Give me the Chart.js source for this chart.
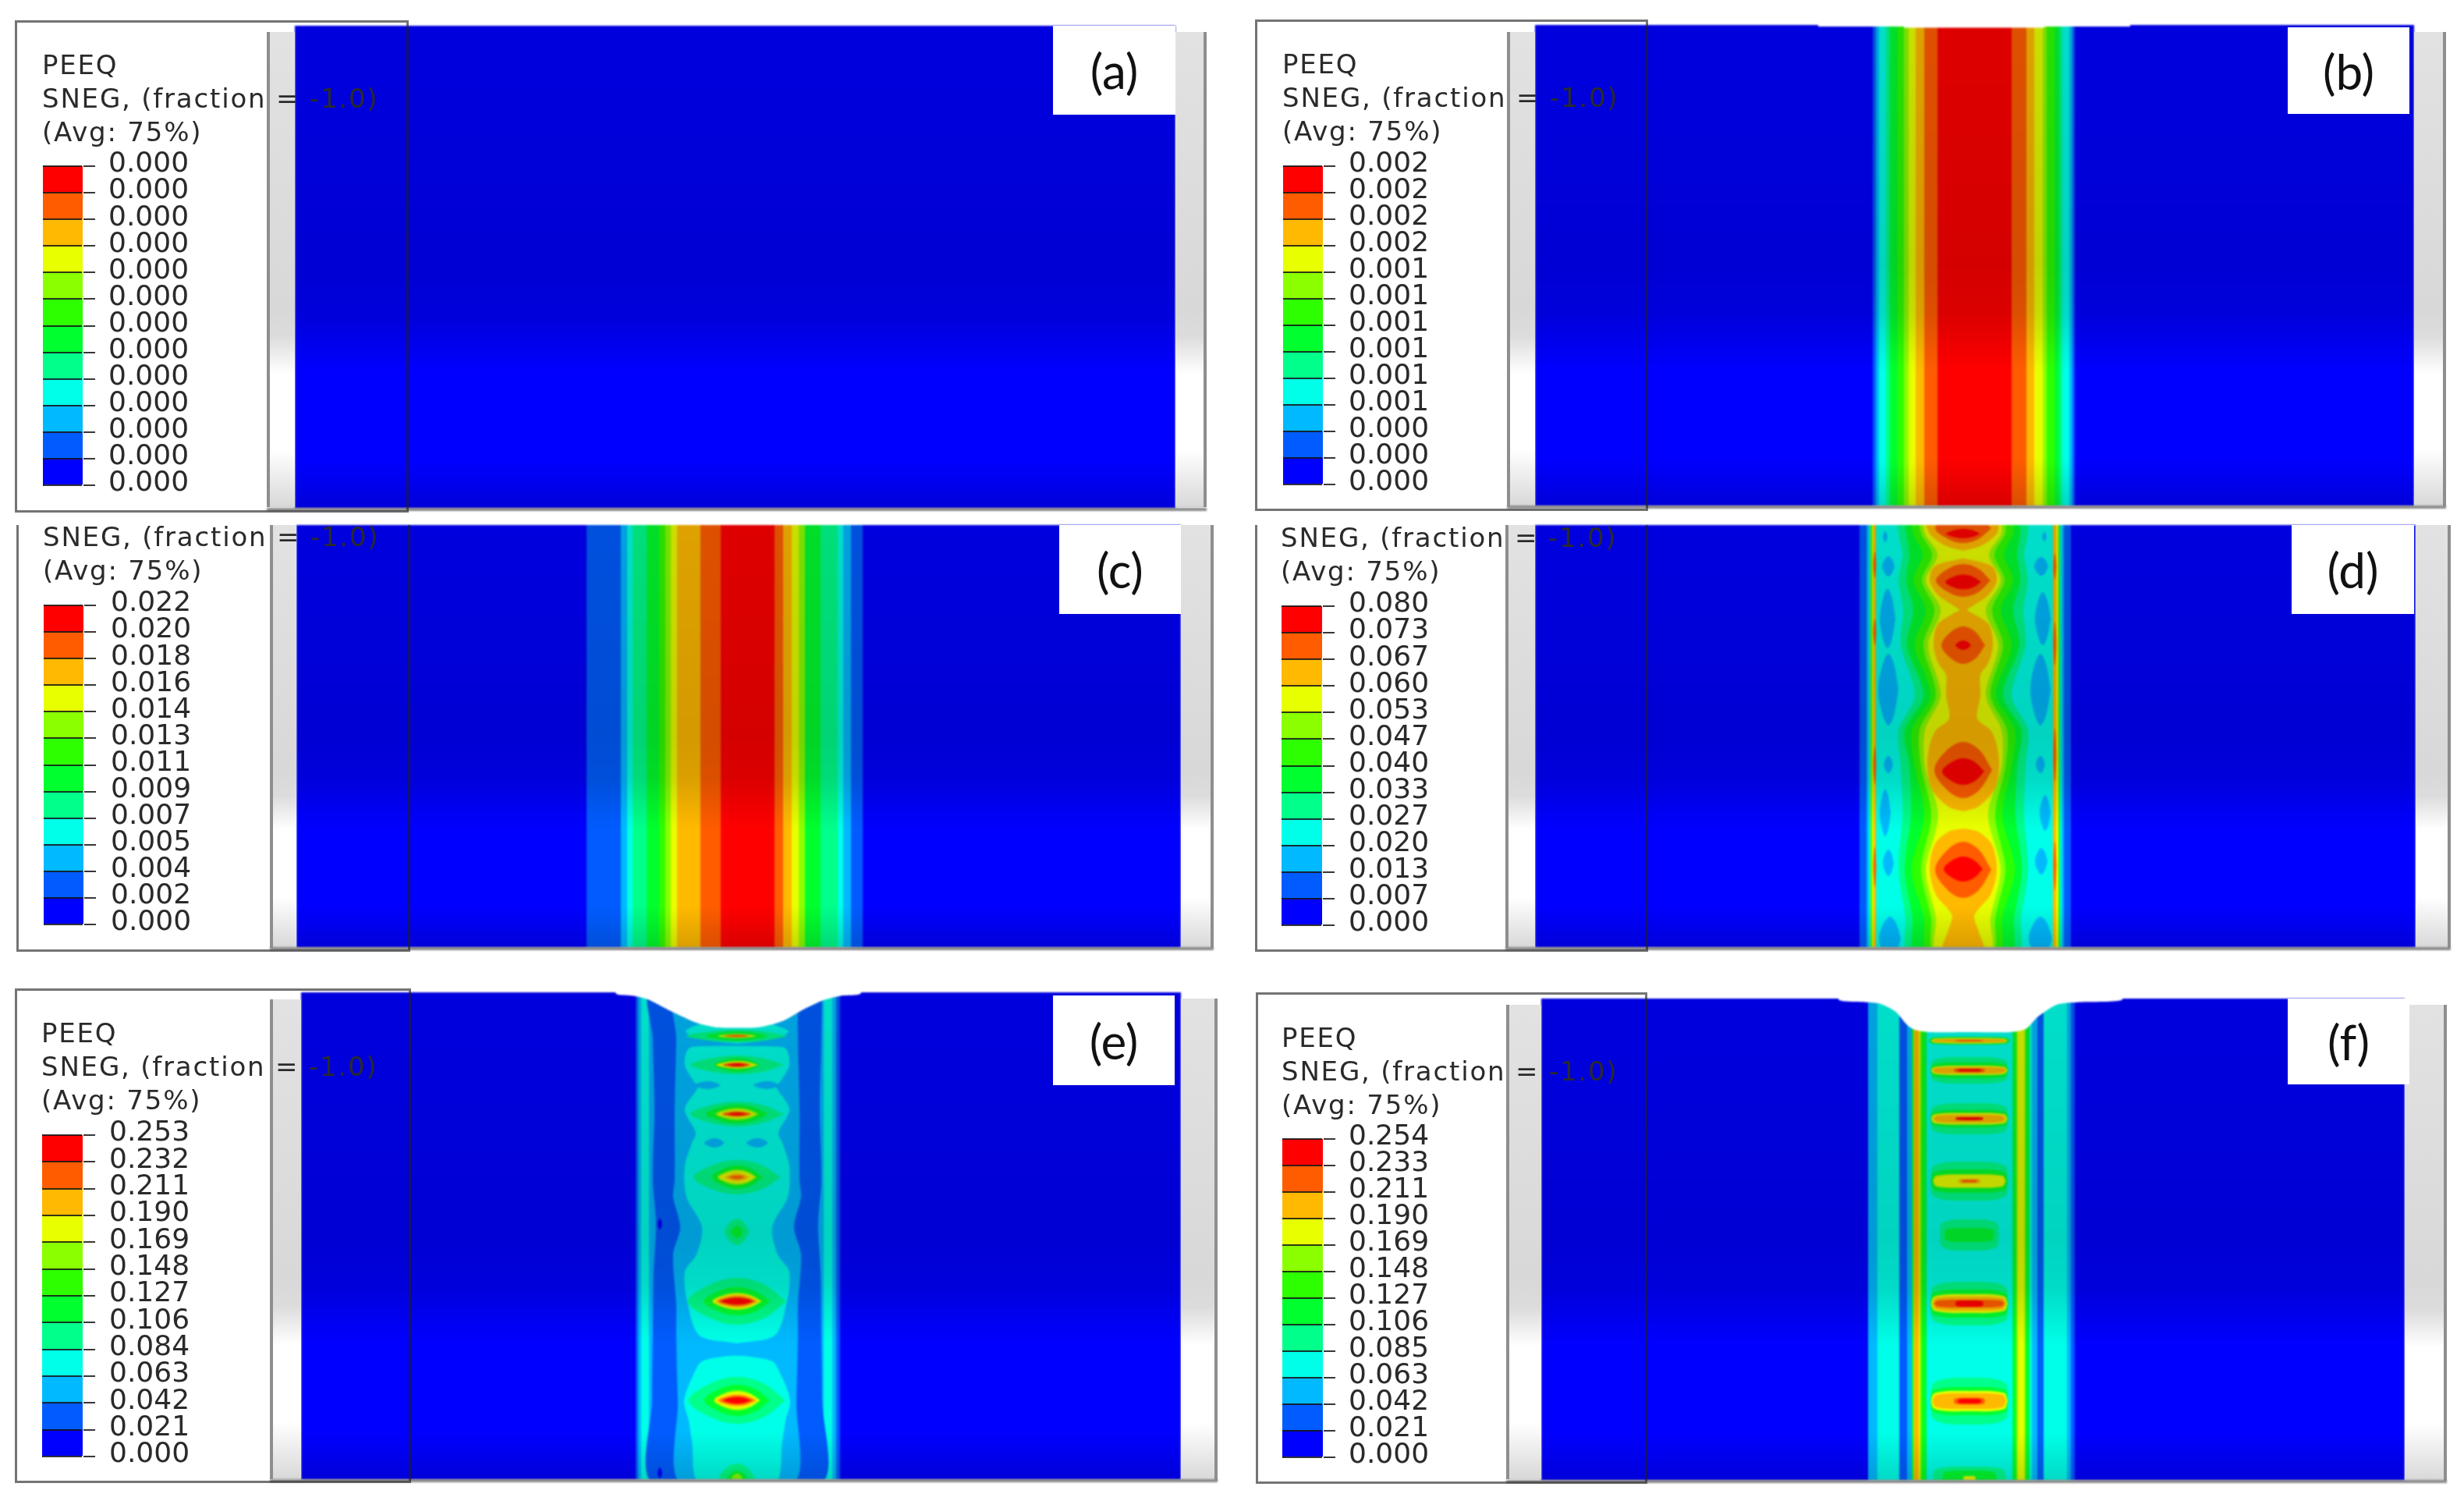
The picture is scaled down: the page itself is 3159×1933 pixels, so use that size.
<!DOCTYPE html>
<html>
<head>
<meta charset="utf-8">
<title>PEEQ contours</title>
<script src="https://cdn.jsdelivr.net/npm/chart.js@4"></script>
<style>
html, body { margin: 0; padding: 0; background: #fff; width: 3159px; height: 1933px; overflow: hidden; }
canvas { position: absolute; display: block; }
.plate { filter: blur(1.3px); }
.legend { filter: blur(0.6px); }
.rail { position: absolute; background: linear-gradient(#e2e2e2 0%, #d8d8d8 58%, #dcdcdc 64%, #fff 72%, #fff 88%, #d8d8d8 100%); box-sizing: border-box; filter: blur(0.6px); }
.floor { position: absolute; height: 4px; background: #8a8a8a; filter: blur(0.8px); }
.box { position: absolute; box-sizing: border-box; border: 3px solid rgba(30,30,30,0.62); filter: blur(0.4px); }
.txt { position: absolute; white-space: pre; font: 34px/42px "DejaVu Sans", sans-serif; letter-spacing: 1.8px; color: #2a2a2a; filter: blur(0.5px); }
.tag { position: absolute; background: #fff; display: flex; align-items: center; justify-content: center; font: 62px "Lato", sans-serif; color: #111; }
</style>
</head>
<body>
<script>
// Abaqus contour colours, low to high
const contourColors = ['#0000ff', '#005cff', '#00b9ff', '#00ffe8', '#00ff8b', '#00ff2e', '#2eff00', '#8bff00', '#e8ff00', '#ffb900', '#ff5c00', '#ff0000'];

// Legend tick labels, top to bottom
const legendA = ['0.000', '0.000', '0.000', '0.000', '0.000', '0.000', '0.000', '0.000', '0.000', '0.000', '0.000', '0.000', '0.000'];
const legendB = ['0.002', '0.002', '0.002', '0.002', '0.001', '0.001', '0.001', '0.001', '0.001', '0.001', '0.000', '0.000', '0.000'];
const legendC = ['0.022', '0.020', '0.018', '0.016', '0.014', '0.013', '0.011', '0.009', '0.007', '0.005', '0.004', '0.002', '0.000'];
const legendD = ['0.080', '0.073', '0.067', '0.060', '0.053', '0.047', '0.040', '0.033', '0.027', '0.020', '0.013', '0.007', '0.000'];
const legendE = ['0.253', '0.232', '0.211', '0.190', '0.169', '0.148', '0.127', '0.106', '0.084', '0.063', '0.042', '0.021', '0.000'];
const legendF = ['0.254', '0.233', '0.211', '0.190', '0.169', '0.148', '0.127', '0.106', '0.085', '0.063', '0.042', '0.021', '0.000'];

const titleFull = ['PEEQ', 'SNEG, (fraction = -1.0)', '(Avg: 75%)'];
const titleCut = ['SNEG, (fraction = -1.0)', '(Avg: 75%)'];

// Straight contour bands: edges are distance from the weld centre line, colours index contourColors
const edgesB = [-130, -126, -122, -113, -108, -98, -90, -84, -75, -64, -47, 48, 67, 77, 88, 93, 103, 109, 113, 122, 126, 129];
const colorsB = [1, 2, 3, 4, 5, 6, 7, 8, 9, 10, 11, 10, 9, 8, 7, 6, 5, 4, 3, 2, 1];
const edgesC = [-206, -162, -154, -147, -129, -113, -105, -98, -90, -60, -34, 35, 46, 57, 66, 74, 94, 116, 123, 133, 148];
const colorsC = [1, 2, 3, 4, 5, 6, 7, 8, 9, 10, 11, 10, 9, 8, 7, 5, 4, 3, 2, 1];
const edgesD = [-133, -124, -121, -119, -117, -115, -112, 115, 119, 122, 124, 126, 129, 138];
const colorsD = [1, 2, 3, 6, 8, 9, 3, 9, 8, 5, 3, 2, 1];
const edgesE = [-130, -127, -123, -113, 111, 122, 127, 132];
const colorsE = [1, 2, 3, 2, 3, 2, 1];
const edgesF = [-130, -118, -90, -80, -74, -72, -71, -65, -63, -60, -55, 55, 60, 62, 70, 72, 77, 80, 87, 95, 125, 130, 135];
const colorsF = [2, 3, 1, 2, 5, 7, 9, 8, 6, 5, 3, 5, 7, 8, 7, 5, 3, 2, 1, 3, 2, 1];

// Panel (d): wavy columns, half width of each contour level at depths ridgeDepthD
const ridgeDepthD = [-5, 11, 38, 71, 109, 154, 218, 263, 310, 372, 442, 504, 547];
const ridgeD4 = [83, 83, 78, 83, 77, 80, 62, 83, 80, 78, 83, 74, 70];
const ridgeD5 = [73, 73, 69, 73, 64, 72, 51, 75, 69, 67, 75, 65, 61];
const ridgeD6 = [64, 64, 52, 64, 48, 62, 42, 66, 62, 50, 66, 50, 46];
const ridgeD7 = [54, 54, 40, 53, 37, 51, 35, 56, 54, 41, 54, 41, 38];
const ridgeD8 = [49, 49, 33, 48, 29, 45, 29, 49, 49, 32, 48, 35, 35];
// amber chains: [depth, half width]
const amberD1 = [[-5, 46], [11, 43], [26, 24], [33, 0]];
const amberD2 = [[43, 2], [53, 37], [71, 43], [90, 32], [105, 10], [109, 5], [113, 12], [128, 33], [154, 38], [177, 32], [192, 22], [218, 22], [248, 18], [263, 35], [282, 43], [310, 46], [339, 40], [361, 19], [367, 0]];
const amberD3 = [[389, 0], [393, 19], [410, 37], [442, 43], [474, 35], [493, 19], [502, 14], [519, 19], [547, 26]];
// spots: [offset, depth, half width, half height, colour]
const spotsD = [
  [-100, 15, 3, 7, 2], [-96, 53, 8, 13, 2], [-97, 120, 10, 38, 2], [-96, 211, 13, 46, 2], [-96, 307, 6, 11, 2], [-100, 369, 7, 30, 2], [-96, 433, 7, 17, 2], [-94, 530, 14, 28, 2],
  [104, 15, 3, 6, 2], [100, 53, 9, 12, 2], [102, 120, 10, 34, 2], [99, 211, 13, 46, 2], [99, 307, 6, 11, 2], [105, 369, 7, 23, 2], [100, 431, 8, 17, 2], [99, 530, 15, 28, 2],
  [-113.5, 51, 2, 17, 10], [-113.5, 137, 2, 17, 10], [-113.5, 308, 2, 25, 10], [-113.5, 438, 2, 26, 10],
  [117.5, 53, 2, 17, 10], [117.5, 152, 2, 28, 10], [117.5, 295, 2, 35, 10], [117.5, 437, 2, 32, 10]
];
const hotD = [
  [0, 4, 36, 19, 10], [0, 71, 35, 21, 10], [0, 154, 28, 24, 10], [0, 314, 37, 36, 10], [0, 442, 36, 36, 10],
  [0, 11, 22, 6, 11], [0, 73, 23, 9.5, 11], [0, 154, 10, 6, 11], [0, 316, 27, 17, 11], [0, 441, 25, 16, 11]
];

// Panel (e)
const ridgeDepthE = [-5, 60, 150, 240, 297, 360, 440, 520, 630];
const ridgeE1 = [109, 108, 106, 108, 104, 107, 108, 109, 107];
const ridgeDepthE2 = [-5, 60, 150, 240, 262, 301, 336, 400, 440, 523, 630];
const ridgeE2 = [78, 78, 80, 80, 82, 73, 82, 78, 78, 76, 72];
const cellE1 = [[39, 40], [50, 66], [60, 45], [66, 0]];
const cellE2 = [[69, 40], [72, 62], [93, 67], [115, 55], [121, 50], [150, 67], [180, 53], [193, 58], [223, 67], [262, 65], [301, 45], [336, 52], [358, 67], [401, 63], [440, 48], [450, 0]];
const cellE3 = [[466, 10], [473, 45], [488, 55], [523, 68], [549, 62], [575, 58], [630, 48]];
const spotsE = [
  [-99, 297, 3, 7, 0], [-99, 616, 3, 7, 0],
  [-38, 119, 17, 5, 2], [38, 119, 17, 5, 2], [-29, 193, 13, 6, 2], [26, 193, 14, 6, 2],
  [0, 56, 65, 8, 4], [0, 56, 40, 6, 5], [0, 56, 25, 2.5, 8], [0, 56, 18, 1.5, 10],
  [0, 93, 60, 12, 4], [0, 93, 30, 9, 5], [0, 93, 27, 5, 8], [0, 93, 18, 3, 10], [0, 93, 12, 1.5, 11],
  [0, 156, 60, 16, 4], [0, 156, 40, 12, 5], [0, 156, 28, 8, 7], [0, 156, 25, 5.5, 8], [0, 156, 19, 3.5, 10], [0, 156, 12, 1.5, 11],
  [0, 237, 56, 22, 4], [0, 237, 33, 15, 5], [0, 237, 25, 10, 7], [0, 237, 24, 8, 8], [0, 237, 15, 5, 9], [0, 237, 10, 2, 10],
  [0, 307, 16, 17, 4], [0, 307, 8, 8, 5],
  [0, 396, 63, 30, 4], [0, 396, 43, 18, 5], [0, 396, 32, 11, 7], [0, 396, 31, 10, 8], [0, 396, 27, 8, 9], [0, 396, 24, 6, 10], [0, 396, 20, 4, 11],
  [0, 523, 62, 30, 4], [0, 523, 42, 20, 5], [0, 523, 30, 13, 7], [0, 523, 29, 11, 8], [0, 523, 26, 8, 9], [0, 523, 22, 6, 10], [0, 523, 17, 4, 11],
  [0, 622, 23, 18, 4], [0, 622, 13, 9, 5], [0, 622, 7, 5, 7]
];

// Panel (f): capsule shaped strips
const barsF = [
  [0, 54, 52, 5, 5], [0, 54, 49, 3.5, 8], [0, 54, 47, 2, 9], [0, 54, 18, 1, 10],
  [0, 92, 50, 17, 4], [0, 92, 50, 10, 5], [0, 92, 49, 6, 8], [0, 92, 47, 4, 9], [0, 92, 20, 2.5, 10], [0, 92, 15, 1.5, 11],
  [0, 154, 50, 20, 4], [0, 154, 50, 11, 5], [0, 154, 49, 7.5, 8], [0, 154, 46, 5, 9], [0, 154, 18, 2, 11],
  [0, 234, 50, 25, 4], [0, 234, 49, 15, 5], [0, 234, 47, 9, 7], [0, 234, 46, 8, 8], [0, 234, 14, 3, 9], [0, 234, 10, 1.5, 10],
  [0, 303, 38, 20, 4], [0, 303, 32, 9, 5],
  [0, 391, 50, 28, 4], [0, 391, 50, 18, 5], [0, 391, 49, 12, 8], [0, 391, 47, 9, 9], [0, 391, 45, 5, 10], [0, 391, 18, 4, 11],
  [0, 516, 50, 30, 4], [0, 516, 50, 18, 5], [0, 516, 49, 13, 8], [0, 516, 47, 10, 9], [0, 516, 20, 4.5, 10], [0, 516, 15, 3, 11],
  [0, 615, 47, 15, 4], [0, 615, 35, 10, 5], [0, 615, 8, 3, 8]
];

// Worn top surface: [offset, depth]
const notchB = [[-200, 0], [-200, 2], [-90, 2], [-90, 3.5], [90, 3.5], [90, 2], [200, 2], [200, 0]];
const notchE = [[-155, 2], [-133, 4.4], [-115, 8.7], [-85, 24], [-52, 39], [-28, 44.7], [0, 45.5], [28, 44.7], [58, 37], [85, 22], [112, 9.5], [133, 4.4], [158, 2]];
const notchF = [[-167, 2], [-132, 4.7], [-115, 6.4], [-95, 16.4], [-80, 33.7], [-70, 40], [-52, 43], [0, 43], [52, 43], [72, 39], [88, 23], [112, 7.7], [138, 4.7], [195, 2]];

// Page layout of the six panels
const layoutA = { x: 378, y: 33, w: 1129, h: 619, cx: 900, railL: [342, 41, 36, 609], railR: [1507, 41, 40, 609], box: [19, 26, 505, 631], bar: [55, 213, 51, 409], labelX: 139, title: 94.5, tag: [1350, 33, 157, 114], name: '(a)' };
const layoutB = { x: 1968, y: 32, w: 1127, h: 617, cx: 2531, railL: [1932, 41, 36, 608], railR: [3095, 41, 41, 608], box: [1609, 25, 504, 630], bar: [1645, 213, 51, 408], labelX: 1729, title: 94, tag: [2933, 35, 156, 111], name: '(b)' };
const layoutC = { x: 380, y: 673, w: 1134, h: 542, cx: 958, railL: [346, 673, 34, 542], railR: [1514, 673, 42, 542], box: [21, 673, 505, 547], bar: [56, 776, 51, 409], labelX: 142, title: 700, tag: [1358, 673, 156, 114], name: '(c)' };
const layoutD = { x: 1968, y: 673, w: 1129, h: 542, cx: 2517, railL: [1930, 673, 38, 542], railR: [3097, 673, 45, 542], box: [1609, 673, 504, 547], bar: [1643, 777, 52, 409], labelX: 1729, title: 701, tag: [2938, 673, 157, 114], name: '(d)' };
const layoutE = { x: 386, y: 1272, w: 1128, h: 625, cx: 945, railL: [346, 1281, 40, 615], railR: [1514, 1280, 47, 618], box: [19, 1267, 508, 634], bar: [54, 1455, 52, 412], labelX: 140, title: 1336, tag: [1350, 1276, 156, 115], name: '(e)' };
const layoutF = { x: 1976, y: 1280, w: 1107, h: 618, cx: 2525, railL: [1931, 1288, 45, 608], railR: [3083, 1288, 54, 610], box: [1610, 1272, 502, 630], bar: [1644, 1460, 52, 408], labelX: 1729, title: 1342, tag: [2933, 1280, 156, 110], name: '(f)' };

function addDiv(cls, rect) {
  const el = document.createElement('div');
  el.className = cls;
  if (rect) {
    el.style.left = rect[0] + 'px';
    el.style.top = rect[1] + 'px';
    el.style.width = rect[2] + 'px';
    el.style.height = rect[3] + 'px';
  }
  document.body.appendChild(el);
  return el;
}

function addCanvas(cls, x, y, w, h) {
  const canvas = document.createElement('canvas');
  canvas.className = cls;
  canvas.width = w;
  canvas.height = h;
  canvas.style.left = x + 'px';
  canvas.style.top = y + 'px';
  canvas.style.width = w + 'px';
  canvas.style.height = h + 'px';
  document.body.appendChild(canvas);
  return canvas;
}

// A closed filled outline on the plate's own axes
function shape(points, color, tension) {
  return {
    type: 'scatter',
    data: points,
    showLine: true,
    fill: 'shape',
    backgroundColor: color,
    borderWidth: 0,
    borderColor: 'transparent',
    pointRadius: 0,
    tension: tension || 0
  };
}

function bandShapes(edges, colors, h) {
  return colors.map((c, i) => shape([
    { x: edges[i], y: -10 }, { x: edges[i + 1], y: -10 },
    { x: edges[i + 1], y: h + 10 }, { x: edges[i], y: h + 10 }, { x: edges[i], y: -10 }
  ], contourColors[c]));
}

function ridgeShape(depths, halves, c) {
  const right = depths.map((d, i) => ({ x: halves[i], y: d }));
  const left = depths.map((d, i) => ({ x: -halves[i], y: d })).reverse();
  const pts = right.concat(left);
  pts.push(pts[0]);
  return shape(pts, contourColors[c], 0.3);
}

function chainShape(pairs, c) {
  return ridgeShape(pairs.map(p => p[0]), pairs.map(p => p[1]), c);
}

const lensCorners = [[1, 0], [0.55, 0.72], [0, 1], [-0.55, 0.72], [-1, 0], [-0.55, -0.72], [0, -1], [0.55, -0.72], [1, 0]];
const capsuleCorners = [[1, 0], [0.9, 0.8], [0, 1], [-0.9, 0.8], [-1, 0], [-0.9, -0.8], [0, -1], [0.9, -0.8], [1, 0]];

function spotShapes(list, corners) {
  return list.map(s => shape(corners.map(k => ({ x: s[0] + k[0] * s[2], y: s[1] + k[1] * s[3] })), contourColors[s[4]], 0.35));
}

function notchShape(pairs, tension) {
  const pts = pairs.map(p => ({ x: p[0], y: p[1] }));
  pts.unshift({ x: pairs[0][0], y: -10 });
  pts.push({ x: pairs[pairs.length - 1][0], y: -10 });
  pts.push(pts[0]);
  return shape(pts, '#ffffff', tension);
}

function drawPlate(lay, contours, notch) {
  const canvas = addCanvas('plate', lay.x, lay.y, lay.w, lay.h);
  // the lighting of the rendered part, darker above and at the bottom edge
  const shade = canvas.getContext('2d').createLinearGradient(0, 0, 0, lay.h);
  shade.addColorStop(0, 'rgba(0,0,0,0.13)');
  shade.addColorStop(0.5, 'rgba(0,0,0,0.17)');
  shade.addColorStop(0.6, 'rgba(0,0,0,0.14)');
  shade.addColorStop(0.72, 'rgba(0,0,0,0)');
  shade.addColorStop(0.9, 'rgba(0,0,0,0)');
  shade.addColorStop(1, 'rgba(0,0,0,0.15)');
  const xMin = lay.x - lay.cx;
  const xMax = lay.x + lay.w - lay.cx;
  const whole = [{ x: xMin - 5, y: -10 }, { x: xMax + 5, y: -10 }, { x: xMax + 5, y: lay.h + 10 }, { x: xMin - 5, y: lay.h + 10 }, { x: xMin - 5, y: -10 }];
  const painted = [shape(whole, contourColors[0])].concat(contours, [shape(whole, shade)]);
  if (notch) painted.push(notch);
  // Chart.js paints the first dataset last, so hand them over top layer first
  new Chart(canvas, {
    type: 'scatter',
    data: { datasets: painted.reverse() },
    options: {
      responsive: false,
      animation: false,
      devicePixelRatio: 1,
      layout: { padding: 0, autoPadding: false },
      plugins: { legend: { display: false }, tooltip: { enabled: false } },
      scales: {
        x: { type: 'linear', min: xMin, max: xMax, display: false },
        y: { type: 'linear', min: 0, max: lay.h, reverse: true, display: false }
      }
    }
  });
}

function drawLegend(lay, labels) {
  const bar = lay.bar;
  const axisW = lay.labelX - (bar[0] + bar[2]) + 112;
  const pad = 22;
  const canvas = addCanvas('legend', bar[0], bar[1] - pad, bar[2] + axisW, bar[3] + pad * 2);
  const bands = contourColors.map((c) => ({ data: [1], backgroundColor: c, borderWidth: 0 }));
  new Chart(canvas, {
    type: 'bar',
    data: { labels: ['PEEQ'], datasets: bands },
    options: {
      responsive: false,
      animation: false,
      devicePixelRatio: 1,
      layout: { padding: { top: pad, bottom: pad, left: 0, right: 0 }, autoPadding: false },
      datasets: { bar: { barPercentage: 1, categoryPercentage: 1 } },
      plugins: { legend: { display: false }, tooltip: { enabled: false } },
      scales: {
        x: { stacked: true, display: false },
        y: {
          stacked: true,
          position: 'right',
          min: 0,
          max: 12,
          afterFit: (scale) => {
            scale.width = axisW;
            // the top and bottom labels may hang over the bar ends
            scale.paddingTop = 0;
            scale.paddingBottom = 0;
          },
          grid: { color: 'rgba(20,20,20,0.85)', lineWidth: 2, tickLength: 16, z: 1 },
          border: { color: '#555', width: 2 },
          ticks: {
            stepSize: 1,
            padding: lay.labelX - (bar[0] + bar[2]) - 16,
            labelOffset: -2,
            color: '#2a2a2a',
            font: { family: '"DejaVu Sans"', size: 36 },
            autoSkip: false,
            callback: (v) => labels[12 - v]
          }
        }
      }
    }
  });
}

function drawFrame(lay, title) {
  addDiv('rail', lay.railL).style.cssText += 'border-left:4px solid #8e8e8e;';
  addDiv('rail', lay.railR).style.cssText += 'border-right:4px solid #8e8e8e;';
  const bottom = lay.y + lay.h;
  addDiv('floor', [lay.railL[0], bottom - 1, lay.railR[0] + lay.railR[2] - lay.railL[0], 4]);
  const box = addDiv('box', lay.box);
  if (title.length < 3) box.style.borderTop = 'none';
  title.forEach((line, i) => {
    const el = addDiv('txt');
    el.textContent = line;
    el.style.left = (lay.bar[0] - 1) + 'px';
    el.style.top = (lay.title + i * 43 - 33) + 'px';
  });
  addDiv('tag', lay.tag).textContent = lay.name;
}

// (a) nothing has yielded yet
drawPlate(layoutA, []);
drawFrame(layoutA, titleFull);
drawLegend(layoutA, legendA);

// (b)
drawPlate(layoutB, bandShapes(edgesB, colorsB, layoutB.h), notchShape(notchB, 0));
drawFrame(layoutB, titleFull);
drawLegend(layoutB, legendB);

// (c)
drawPlate(layoutC, bandShapes(edgesC, colorsC, layoutC.h));
drawFrame(layoutC, titleCut);
drawLegend(layoutC, legendC);

// (d)
drawPlate(layoutD, [].concat(
  bandShapes(edgesD, colorsD, layoutD.h),
  spotShapes(spotsD, lensCorners),
  [
    ridgeShape(ridgeDepthD, ridgeD4, 4),
    ridgeShape(ridgeDepthD, ridgeD5, 5),
    ridgeShape(ridgeDepthD, ridgeD6, 6),
    ridgeShape(ridgeDepthD, ridgeD7, 7),
    ridgeShape(ridgeDepthD, ridgeD8, 8),
    chainShape(amberD1, 9),
    chainShape(amberD2, 9),
    chainShape(amberD3, 9)
  ],
  spotShapes(hotD, lensCorners)
));
drawFrame(layoutD, titleCut);
drawLegend(layoutD, legendD);

// (e)
drawPlate(layoutE, [].concat(
  bandShapes(edgesE, colorsE, layoutE.h),
  [
    ridgeShape(ridgeDepthE, ridgeE1, 1),
    ridgeShape(ridgeDepthE2, ridgeE2, 2),
    chainShape(cellE1, 3),
    chainShape(cellE2, 3),
    chainShape(cellE3, 3)
  ],
  spotShapes(spotsE, lensCorners)
), notchShape(notchE, 0.25));
drawFrame(layoutE, titleFull);
drawLegend(layoutE, legendE);

// (f)
drawPlate(layoutF, [].concat(
  bandShapes(edgesF, colorsF, layoutF.h),
  spotShapes(barsF, capsuleCorners)
), notchShape(notchF, 0.25));
drawFrame(layoutF, titleFull);
drawLegend(layoutF, legendF);
</script>
</body>
</html>
